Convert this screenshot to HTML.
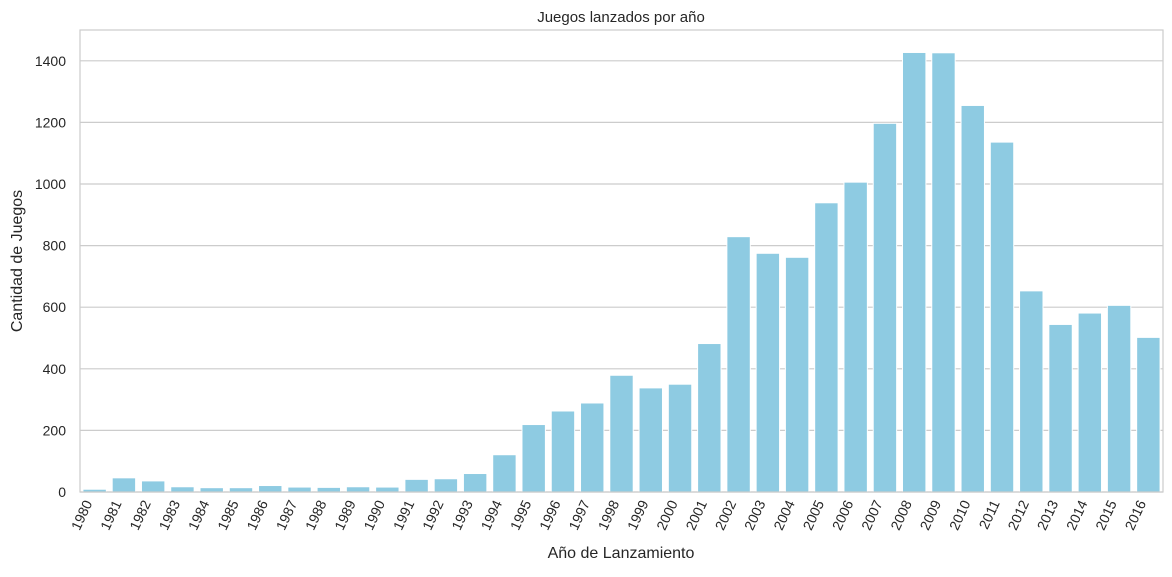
<!DOCTYPE html>
<html><head><meta charset="utf-8"><style>
body{margin:0;background:#fff;width:1172px;height:572px;overflow:hidden}
text{font-family:"Liberation Sans","DejaVu Sans",sans-serif;fill:#262626}
</style></head><body>
<svg id="chart" width="1172" height="572">
<text x="621" y="22" text-anchor="middle" font-size="15">Juegos lanzados por año</text>
<text x="621" y="558" text-anchor="middle" font-size="16">Año de Lanzamiento</text>
<text transform="translate(22,261) rotate(-90)" text-anchor="middle" font-size="16">Cantidad de Juegos</text>
<g id="grid"></g><g id="bars"></g><g id="ticks"></g>
<rect x="80" y="30" width="1083" height="462" fill="none" stroke="#cccccc" stroke-width="1.2"/>
</svg>
<script>
const years=[1980,1981,1982,1983,1984,1985,1986,1987,1988,1989,1990,1991,1992,1993,1994,1995,1996,1997,1998,1999,2000,2001,2002,2003,2004,2005,2006,2007,2008,2009,2010,2011,2012,2013,2014,2015,2016];
const counts=[9,46,36,17,14,14,21,16,15,17,16,41,43,60,121,219,263,289,379,338,350,482,829,775,762,939,1006,1197,1427,1426,1255,1136,653,544,581,606,502];
const yTicks=[0,200,400,600,800,1000,1200,1400];
const NS="http://www.w3.org/2000/svg";
const L=80,R=1163,T=30,B=492,yMax=1500;
const y=v=>B-(v/yMax)*(B-T);
const step=(R-L)/years.length;
const x=i=>L+step*(i+0.5);
const grid=document.getElementById('grid'),bars=document.getElementById('bars'),ticks=document.getElementById('ticks');
function mk(t,a){const e=document.createElementNS(NS,t);for(const k in a)e.setAttribute(k,a[k]);return e;}
yTicks.forEach(v=>{
 const l=mk('line',{x1:L,x2:R,y1:y(v),y2:y(v),stroke:'#cccccc','stroke-width':1.2});
 
 
 grid.appendChild(l);
 const t=mk('text',{x:66,y:y(v)+5,'text-anchor':'end','font-size':14});
 t.textContent=v;
 
 
 ticks.appendChild(t);
});
years.forEach((yr,i)=>{
 const w=step*0.8;
 const r=mk('rect',{x:x(i)-w/2,y:y(counts[i]),width:w,height:B-y(counts[i]),fill:'#8ecbe2',stroke:'#fff','stroke-width':1});
 
 
 bars.appendChild(r);
 const t=mk('text',{transform:`translate(${x(i)-2},${B+11}) rotate(-65)`,'text-anchor':'end','font-size':14});
 t.textContent=yr;
 
 
 ticks.appendChild(t);
});
</script>
</body></html>
